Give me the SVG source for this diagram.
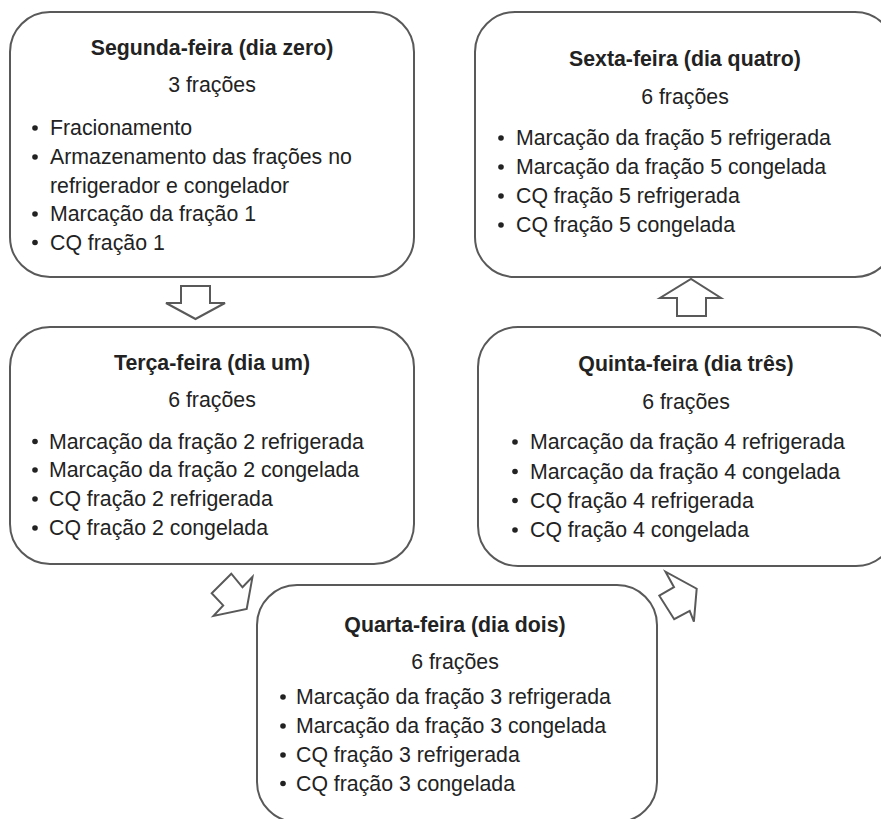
<svg xmlns="http://www.w3.org/2000/svg" width="881" height="819" viewBox="0 0 881 819">
<style>
.box{fill:#ffffff;stroke:#595959;stroke-width:2}
.arr{fill:#ffffff;stroke:#595959;stroke-width:2;stroke-linejoin:miter}
text{font-family:"Liberation Sans",Arial,sans-serif;font-size:21.3px;fill:#222222}
.t{font-weight:bold;text-anchor:middle}
.c{text-anchor:middle}
.dot{fill:#222222}
</style>
<rect width="881" height="819" fill="#ffffff"/>
<g id="connectors">
<polygon class="arr" points="166,303 181,303 181,286 210,286 210,303 225,303 195.5,319"/>
<polygon class="arr" points="231.3,573.7 211.7,593.2 223.2,605.4 213.5,615.9 246.7,609 252.5,576.9 242.5,587.3"/>
<polygon class="arr" points="696.7,588.7 693.9,621.7 689.7,610.9 674.2,619.2 659.3,595.7 674,587.2 665.5,571.7"/>
<polygon class="arr" points="660,298 677,298 677,316 706,316 706,298 721,298 691,279"/>
</g>
<g id="segunda">
<rect class="box" x="10" y="12" width="404" height="265" rx="40"/>
<text class="t" x="212" y="55">Segunda-feira (dia zero)</text>
<text class="c" x="212" y="92">3 frações</text>
<circle class="dot" cx="35" cy="128" r="2.8"/><text x="50" y="135">Fracionamento</text>
<circle class="dot" cx="35" cy="157" r="2.8"/><text x="50" y="164">Armazenamento das frações no</text>
<text x="50" y="192.5">refrigerador e congelador</text>
<circle class="dot" cx="35" cy="214" r="2.8"/><text x="50" y="221">Marcação da fração 1</text>
<circle class="dot" cx="35" cy="242.5" r="2.8"/><text x="50" y="249.5">CQ fração 1</text>
</g>
<g id="terca">
<rect class="box" x="10" y="327" width="404" height="237" rx="40"/>
<text class="t" x="212" y="369.5">Terça-feira (dia um)</text>
<text class="c" x="212" y="406.5">6 frações</text>
<circle class="dot" cx="35" cy="441.5" r="2.8"/><text x="49" y="448.5">Marcação da fração 2 refrigerada</text>
<circle class="dot" cx="35" cy="470" r="2.8"/><text x="49" y="477">Marcação da fração 2 congelada</text>
<circle class="dot" cx="35" cy="499" r="2.8"/><text x="49" y="506">CQ fração 2 refrigerada</text>
<circle class="dot" cx="35" cy="528" r="2.8"/><text x="49" y="535">CQ fração 2 congelada</text>
</g>
<g id="quarta">
<rect class="box" x="257" y="585" width="400" height="237" rx="40"/>
<text class="t" x="455" y="631.5">Quarta-feira (dia dois)</text>
<text class="c" x="455" y="668.5">6 frações</text>
<circle class="dot" cx="283" cy="697" r="2.8"/><text x="296" y="704">Marcação da fração 3 refrigerada</text>
<circle class="dot" cx="283" cy="726" r="2.8"/><text x="296" y="733">Marcação da fração 3 congelada</text>
<circle class="dot" cx="283" cy="755" r="2.8"/><text x="296" y="762">CQ fração 3 refrigerada</text>
<circle class="dot" cx="283" cy="783.5" r="2.8"/><text x="296" y="790.5">CQ fração 3 congelada</text>
</g>
<g id="quinta">
<rect class="box" x="478" y="327" width="418" height="239" rx="40"/>
<text class="t" x="686" y="371">Quinta-feira (dia três)</text>
<text class="c" x="686" y="408.5">6 frações</text>
<circle class="dot" cx="515" cy="442" r="2.8"/><text x="530" y="449">Marcação da fração 4 refrigerada</text>
<circle class="dot" cx="515" cy="471.5" r="2.8"/><text x="530" y="478.5">Marcação da fração 4 congelada</text>
<circle class="dot" cx="515" cy="500.5" r="2.8"/><text x="530" y="507.5">CQ fração 4 refrigerada</text>
<circle class="dot" cx="515" cy="530" r="2.8"/><text x="530" y="537">CQ fração 4 congelada</text>
</g>
<g id="sexta">
<rect class="box" x="475" y="12" width="420" height="265" rx="40"/>
<text class="t" x="685" y="66">Sexta-feira (dia quatro)</text>
<text class="c" x="685" y="104">6 frações</text>
<circle class="dot" cx="501" cy="138" r="2.8"/><text x="516" y="145">Marcação da fração 5 refrigerada</text>
<circle class="dot" cx="501" cy="167" r="2.8"/><text x="516" y="174">Marcação da fração 5 congelada</text>
<circle class="dot" cx="501" cy="196" r="2.8"/><text x="516" y="203">CQ fração 5 refrigerada</text>
<circle class="dot" cx="501" cy="225" r="2.8"/><text x="516" y="232">CQ fração 5 congelada</text>
</g>
</svg>
